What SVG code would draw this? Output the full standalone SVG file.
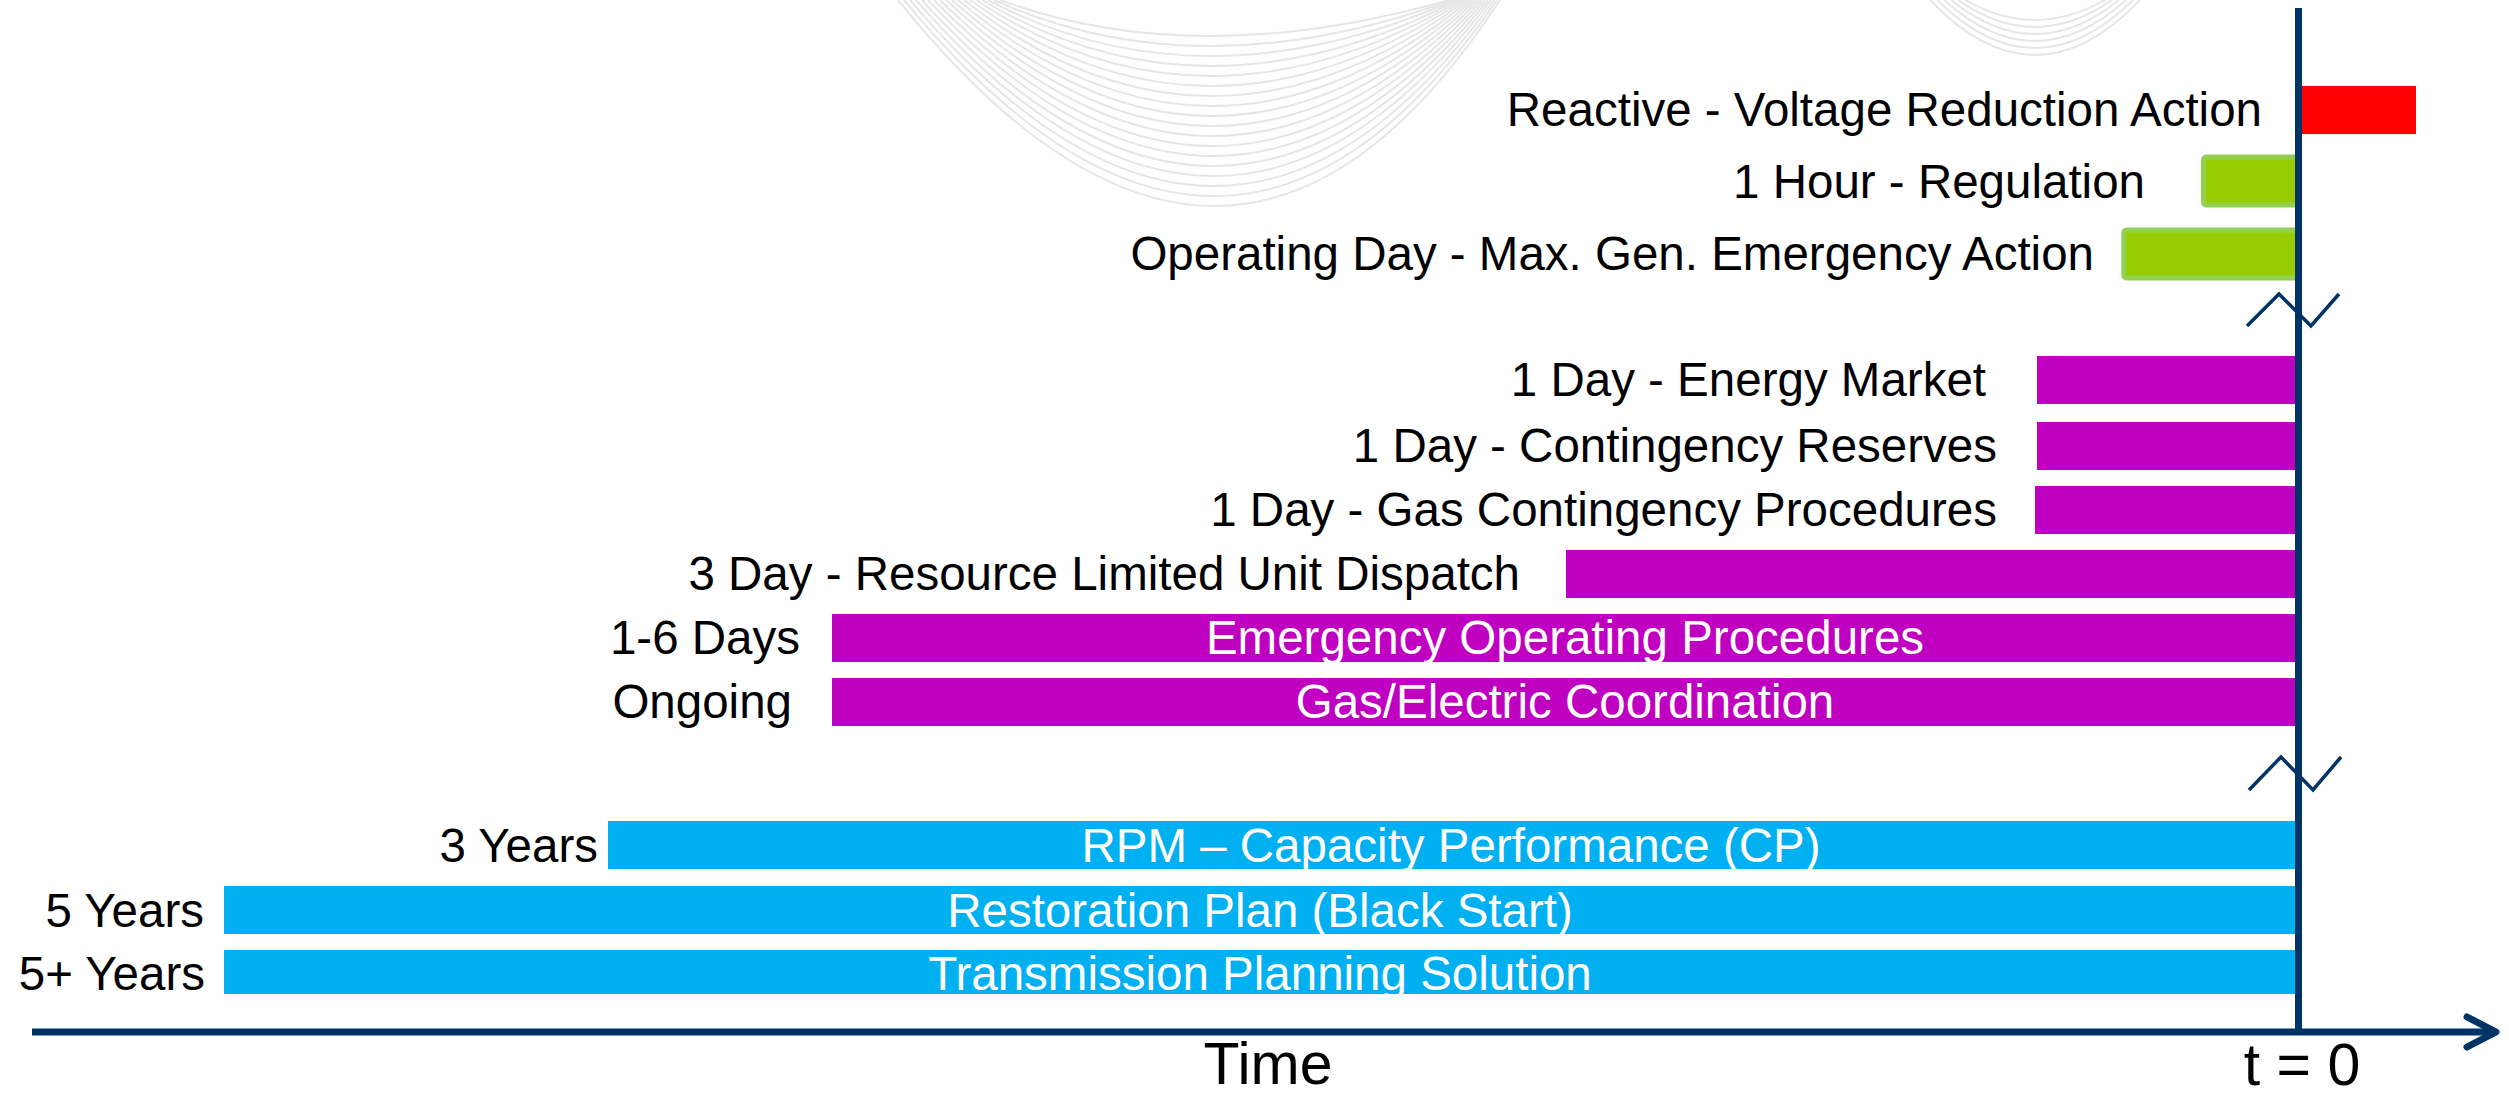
<svg xmlns="http://www.w3.org/2000/svg" width="2509" height="1095" viewBox="0 0 2509 1095">
<style>
.lbl{font-family:"Liberation Sans",Arial,sans-serif;font-size:47.5px;fill:#000;text-anchor:end}
.in{font-family:"Liberation Sans",Arial,sans-serif;font-size:47.5px;fill:#fff;text-anchor:middle}
.ax{font-family:"Liberation Sans",Arial,sans-serif;font-size:59px;fill:#000;text-anchor:middle}
.red{fill:#FF0000}
.grn{fill:#99CC00;stroke:#92D050;stroke-width:5}
.mag{fill:#C000C0}
.blu{fill:#00B0F0}
.axis{stroke:#003366;stroke-width:7;fill:none}
.brk{stroke:#003366;stroke-width:3.5;fill:none}
.wave{stroke:#e6e6e6;stroke-width:2;fill:none}
</style>
<rect width="2509" height="1095" fill="#fff"/>
<g id="background-wave">
<path class="wave" d="M898,0 Q1230,412 1500,0"/>
<path class="wave" d="M904,0 Q1228,392 1497,0"/>
<path class="wave" d="M910,0 Q1226,372 1494,0"/>
<path class="wave" d="M916,0 Q1224,352 1491,0"/>
<path class="wave" d="M922,0 Q1222,332 1488,0"/>
<path class="wave" d="M928,0 Q1220,312 1485,0"/>
<path class="wave" d="M934,0 Q1218,292 1482,0"/>
<path class="wave" d="M940,0 Q1216,272 1479,0"/>
<path class="wave" d="M946,0 Q1214,252 1476,0"/>
<path class="wave" d="M952,0 Q1212,232 1473,0"/>
<path class="wave" d="M958,0 Q1210,212 1470,0"/>
<path class="wave" d="M964,0 Q1208,192 1467,0"/>
<path class="wave" d="M970,0 Q1206,172 1464,0"/>
<path class="wave" d="M976,0 Q1204,152 1461,0"/>
<path class="wave" d="M982,0 Q1202,132 1458,0"/>
<path class="wave" d="M988,0 Q1200,112 1455,0"/>
<path class="wave" d="M994,0 Q1198,92 1452,0"/>
<path class="wave" d="M1000,0 Q1196,72 1449,0"/>
<path class="wave" d="M1930,0 Q2035,110 2140,0"/>
<path class="wave" d="M1937,0 Q2035,96 2133,0"/>
<path class="wave" d="M1944,0 Q2035,82 2126,0"/>
<path class="wave" d="M1951,0 Q2035,68 2119,0"/>
<path class="wave" d="M1958,0 Q2035,54 2112,0"/>
<path class="wave" d="M1965,0 Q2035,40 2105,0"/>
</g>
<g id="reactive-voltage-reduction">
<rect class="red" x="2301" y="86" width="115" height="48"/>
<text class="lbl" x="2262" y="126">Reactive - Voltage Reduction Action</text>
</g>
<g id="regulation">
<rect class="grn" x="2203.5" y="157" width="95" height="48" rx="3"/>
<text class="lbl" x="2145" y="198">1 Hour - Regulation</text>
</g>
<g id="max-gen-emergency">
<rect class="grn" x="2123.8" y="230" width="175" height="48" rx="3"/>
<text class="lbl" x="2094" y="270">Operating Day - Max. Gen. Emergency Action</text>
</g>
<g id="energy-market">
<rect class="mag" x="2037" y="356" width="261" height="48"/>
<text class="lbl" x="1986" y="396">1 Day - Energy Market</text>
</g>
<g id="contingency-reserves">
<rect class="mag" x="2037" y="422" width="261" height="48"/>
<text class="lbl" x="1997" y="462">1 Day - Contingency Reserves</text>
</g>
<g id="gas-contingency">
<rect class="mag" x="2035" y="486" width="263" height="48"/>
<text class="lbl" x="1997" y="526">1 Day - Gas Contingency Procedures</text>
</g>
<g id="resource-limited">
<rect class="mag" x="1566" y="550" width="732" height="48"/>
<text class="lbl" x="1520" y="590">3 Day - Resource Limited Unit Dispatch</text>
</g>
<g id="emergency-operating">
<rect class="mag" x="832" y="614" width="1466" height="48"/>
<text class="lbl" x="800" y="654">1-6 Days</text>
<text class="in" x="1565" y="654">Emergency Operating Procedures</text>
</g>
<g id="gas-electric">
<rect class="mag" x="832" y="678" width="1466" height="48"/>
<text class="lbl" x="792" y="718">Ongoing</text>
<text class="in" x="1565" y="718">Gas/Electric Coordination</text>
</g>
<g id="rpm-cp">
<rect class="blu" x="608" y="821" width="1690" height="48"/>
<text class="lbl" x="598" y="862">3 Years</text>
<text class="in" x="1451" y="862">RPM – Capacity Performance (CP)</text>
</g>
<g id="restoration">
<rect class="blu" x="224" y="886" width="2074" height="48"/>
<text class="lbl" x="204" y="927">5 Years</text>
<text class="in" x="1260" y="927">Restoration Plan (Black Start)</text>
</g>
<g id="transmission">
<rect class="blu" x="224" y="950" width="2074" height="44"/>
<text class="lbl" x="205" y="990">5+ Years</text>
<text class="in" x="1260" y="990">Transmission Planning Solution</text>
</g>
<g id="connectors">
<line class="axis" x1="2298.5" y1="8" x2="2298.5" y2="1032"/>
<line class="axis" x1="32" y1="1032" x2="2492" y2="1032"/>
<polyline class="axis" points="2467,1017 2496,1032 2467,1047" stroke-width="8" stroke-linecap="round" stroke-linejoin="round"/>
<path class="brk" d="M2247,326 L2279,294 L2311,326 L2339,294"/>
<path class="brk" d="M2249,790 L2281,757 L2313,790 L2341,757"/>
</g>
<g id="axis-labels">
<text class="ax" x="1268" y="1084">Time</text>
<text class="ax" x="2302" y="1085">t = 0</text>
</g>
</svg>
